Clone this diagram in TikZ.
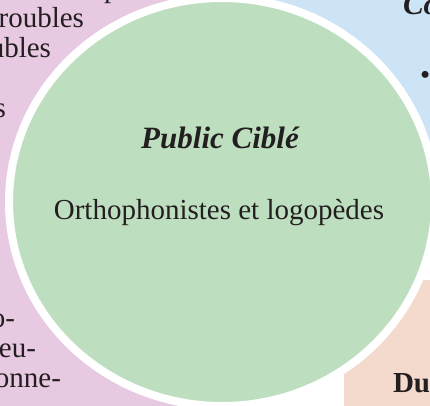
\documentclass[tikz,border=0pt]{standalone}
\usepackage{fontspec}
\setmainfont{Liberation Serif}
\definecolor{pinkbg}{RGB}{232,201,226}
\definecolor{bluebg}{RGB}{205,228,246}
\definecolor{peachbg}{RGB}{244,217,205}
\definecolor{greenbg}{RGB}{190,222,192}
\definecolor{ink}{RGB}{35,31,32}
\tikzset{
  txt/.style={inner sep=0pt, outer sep=0pt, text=ink, font=\fontsize{29}{30}\selectfont},
  ttl/.style={inner sep=0pt, outer sep=0pt, text=ink, font=\fontsize{31}{34}\selectfont\bfseries\itshape},
  hd/.style={inner sep=0pt, outer sep=0pt, text=ink, font=\fontsize{29}{30}\selectfont\bfseries},
}
\begin{document}
\begin{tikzpicture}[x=1pt,y=-1pt]
\useasboundingbox (0,0) rectangle (430,405);
\clip (0,0) rectangle (430,405);
% background panels
\fill[pinkbg] (-10,-10) rectangle (235,415);
\fill[bluebg] (240,-10) rectangle (440,255);
\fill[peachbg] (344,280) rectangle (440,415);
% panel texts (cropped)
\node[txt, anchor=base west] (p0) at (104,-3) {p};
\node[txt, anchor=base east] (p1) at (84,27) {roubles};
\node[txt, anchor=base east] (p2) at (51,57) {ubles};
\node[txt, anchor=base east] (p3) at (6,117) {s};
\node[txt, anchor=base east] (p4) at (15,327) {o-};
\node[txt, anchor=base east] (p5) at (36,357) {eu-};
\node[txt, anchor=base east] (p6) at (61,387) {onne-};
\node[ttl, anchor=base west] (b0) at (403,14) {Co};
\node[txt, anchor=base west] (b1) at (420,84) {•};
\node[hd, anchor=base west] (d0) at (393,392) {Du};
% central ellipse
\draw[white, line width=8pt, fill=greenbg] (222,202) ellipse [x radius=213, y radius=204];
\node[ttl, anchor=base] (title) at (220,148) {Public Ciblé};
\node[txt, anchor=base] (body) at (219,219) {Orthophonistes et logopèdes};
\end{tikzpicture}
\end{document}
